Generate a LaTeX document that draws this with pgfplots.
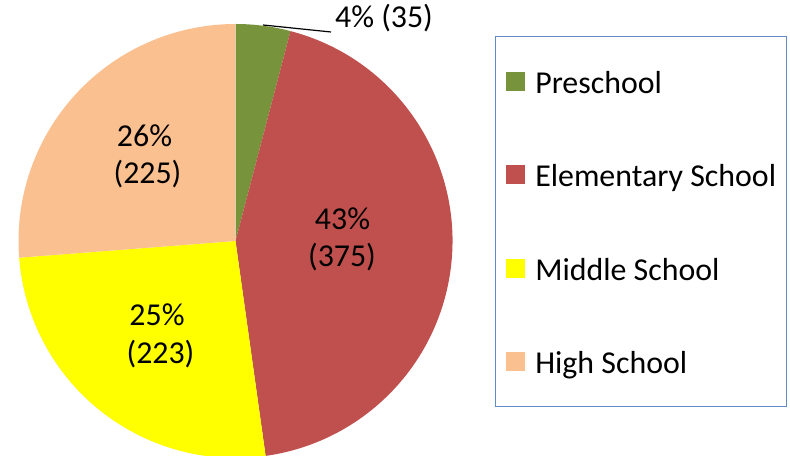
\documentclass[border=0pt]{standalone}
\usepackage{pgfplots}
\usepackage{pgfplotstable}
\pgfplotsset{compat=1.18}
\usepackage{fontspec}
\setmainfont{Carlito}

\definecolor{preschool}{HTML}{77933C}
\definecolor{elementary}{HTML}{C0504D}
\definecolor{middle}{HTML}{FFFF00}
\definecolor{high}{HTML}{FAC090}
\definecolor{legendframe}{HTML}{5F8AC6}

% enrollment counts, clockwise from 12 o'clock
\pgfplotstableread{
name value
Preschool 35
Elementary 375
Middle 223
High 225
}\schooldata

\pgfplotstablegetelem{0}{value}\of\schooldata \let\vA\pgfplotsretval
\pgfplotstablegetelem{1}{value}\of\schooldata \let\vB\pgfplotsretval
\pgfplotstablegetelem{2}{value}\of\schooldata \let\vC\pgfplotsretval
\pgfplotstablegetelem{3}{value}\of\schooldata \let\vD\pgfplotsretval
\pgfmathsetmacro\total{\vA+\vB+\vC+\vD}
\pgfmathsetmacro\aA{90}
\pgfmathsetmacro\aB{\aA-\vA/\total*360}
\pgfmathsetmacro\aC{\aB-\vB/\total*360}
\pgfmathsetmacro\aD{\aC-\vC/\total*360}
\pgfmathsetmacro\aE{\aD-\vD/\total*360}

\def\cx{235.5}
\def\cy{215}
\def\rad{217}
\newcommand\pieslice[3]{%
  \fill[#1] (axis cs:\cx,\cy) -- (axis cs:{\cx+\rad*cos(#2)},{\cy+\rad*sin(#2)})
    arc[start angle=#2, end angle=#3, radius=\rad bp] -- cycle;}
\newcommand\lblfont{\fontsize{32}{38}\selectfont}

\begin{document}
\begin{tikzpicture}
\begin{axis}[
    at={(0,0)}, anchor=south west,
    width=790bp, height=456bp, scale only axis,
    xmin=0, xmax=790, ymin=0, ymax=456,
    hide axis,
    legend cell align=left,
    legend image code/.code={\fill[#1] (0bp,-9bp) rectangle (18bp,9bp);},
    legend style={
        at={(495/790,49/456)}, anchor=south west,
        draw=legendframe, line width=1.2bp,
        font=\lblfont,
        inner xsep=10.5bp, inner ysep=29.75bp,
        row sep=63.5bp,
        nodes={inner sep=0pt, text height=27bp, text depth=3bp},
        /tikz/every odd column/.append style={column sep=10bp}},
  ]
  \pieslice{preschool}{\aA}{\aB}
  \pieslice{elementary}{\aB}{\aC}
  \pieslice{middle}{\aC}{\aD}
  \pieslice{high}{\aD}{\aE}

  \addlegendimage{preschool}\addlegendentry{Preschool}
  \addlegendimage{elementary}\addlegendentry{Elementary School}
  \addlegendimage{middle}\addlegendentry{Middle School}
  \addlegendimage{high}\addlegendentry{High School}

  % slice labels
  \draw[line width=1.2bp] (axis cs:263,431) -- (axis cs:331,424);
  \node[anchor=base, font=\lblfont] at (axis cs:384,428) {4\% (35)};
  \node[anchor=base, font=\lblfont] at (axis cs:342.5,226) {43\%};
  \node[anchor=base, font=\lblfont] at (axis cs:342,189) {(375)};
  \node[anchor=base, font=\lblfont] at (axis cs:157,130) {25\%};
  \node[anchor=base, font=\lblfont] at (axis cs:160.5,92) {(223)};
  \node[anchor=base, font=\lblfont] at (axis cs:144.5,309) {26\%};
  \node[anchor=base, font=\lblfont] at (axis cs:147.5,272) {(225)};
\end{axis}
\pgfresetboundingbox
\path[use as bounding box] (0,0) rectangle (790bp,456bp);
\end{tikzpicture}
\end{document}
